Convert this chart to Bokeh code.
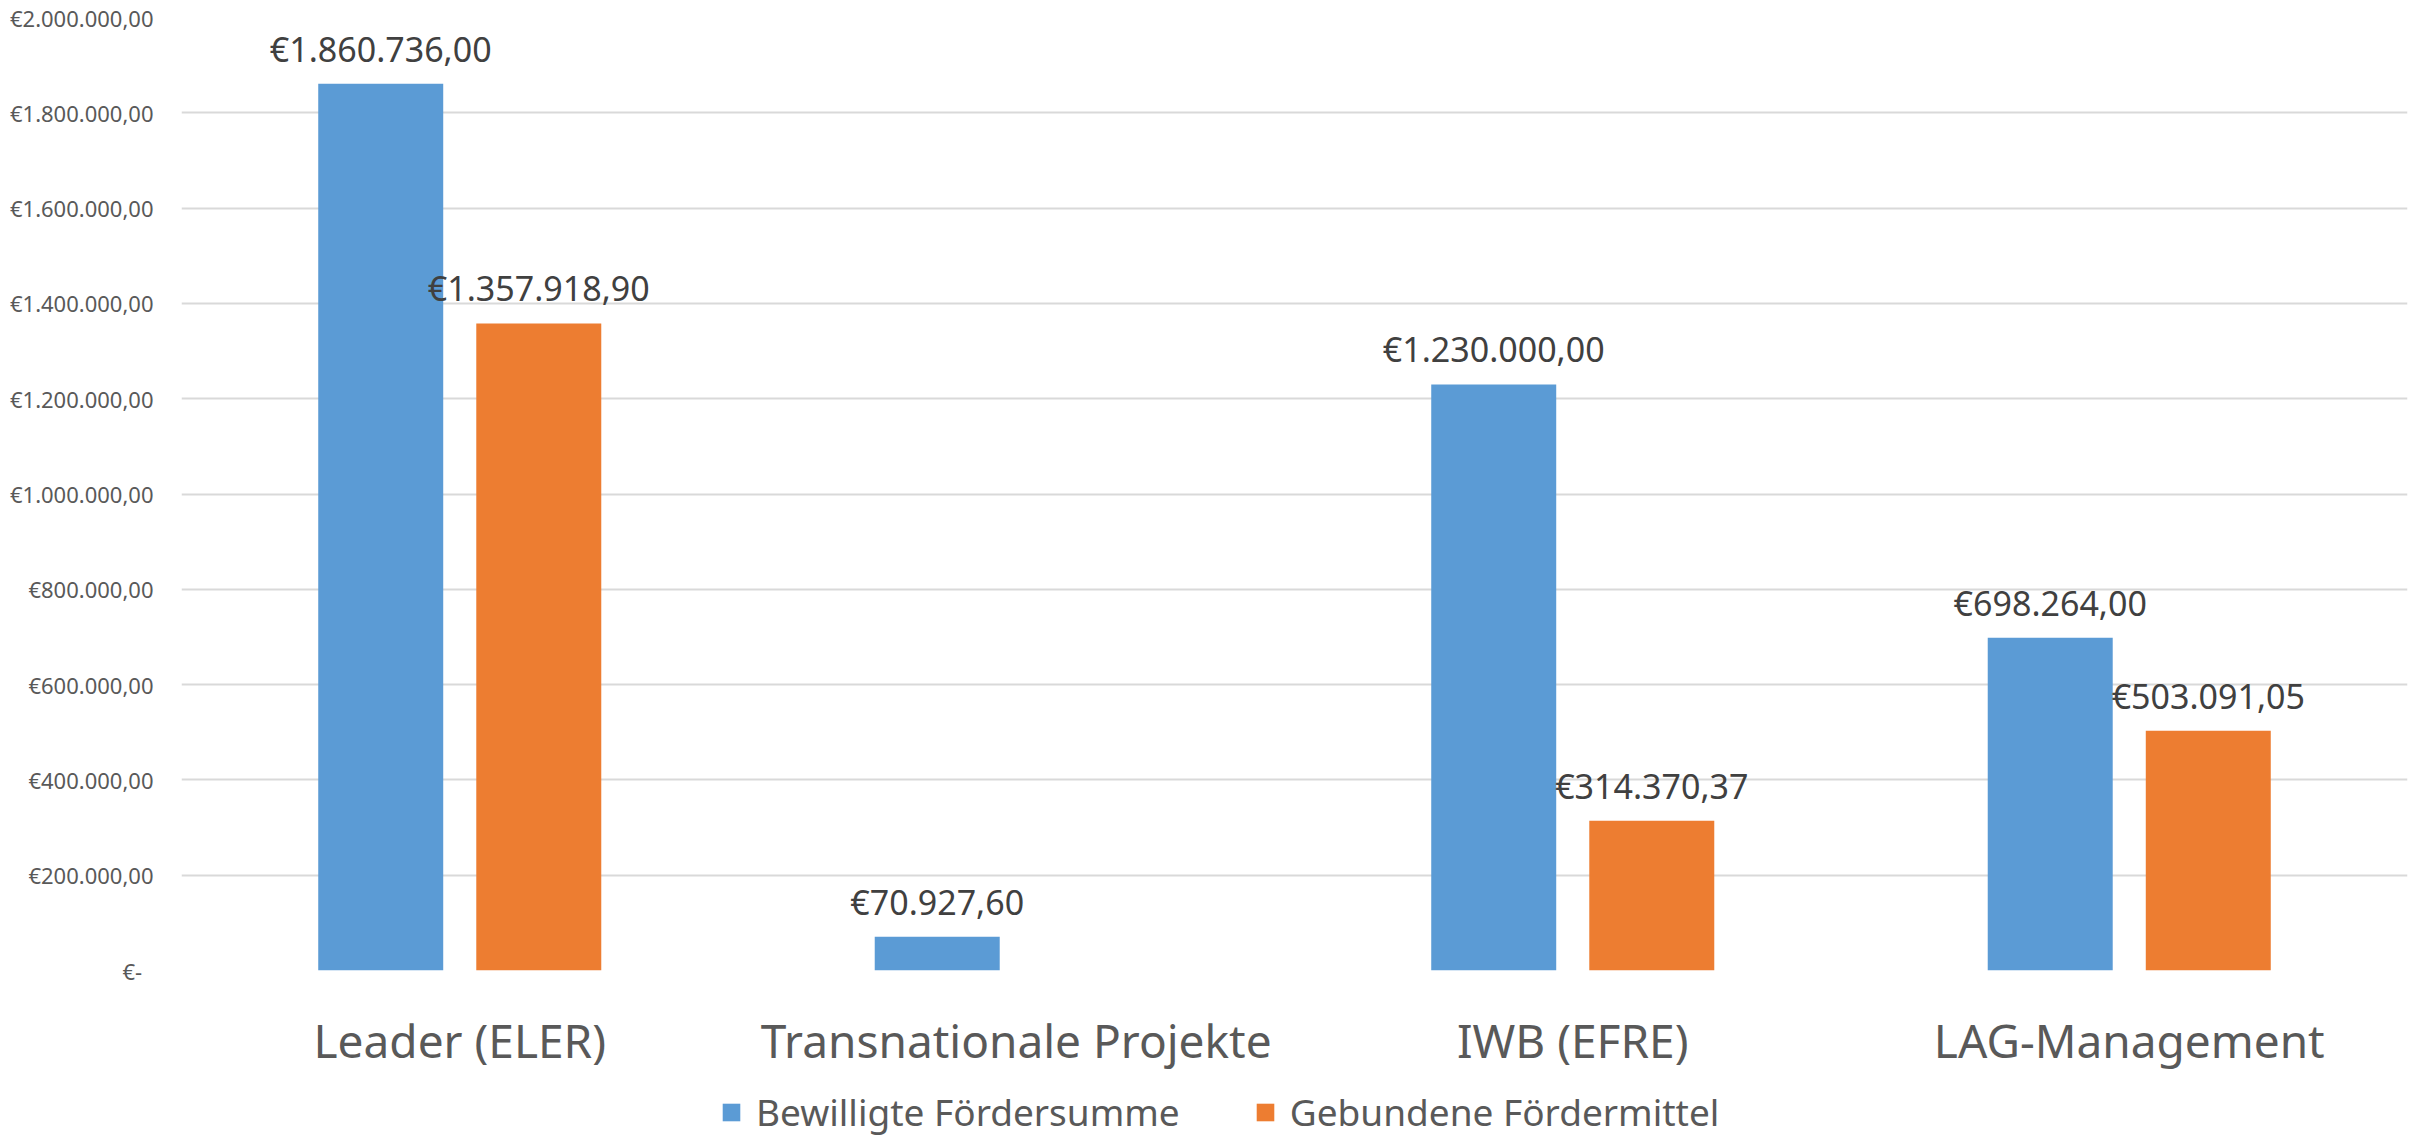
from bokeh.plotting import figure
from bokeh.layouts import column
from bokeh.models import (ColumnDataSource, FactorRange, Range1d, FixedTicker,
                          LabelSet, Legend, LegendItem)
from bokeh.transform import dodge
from bokeh.core.properties import value
from bokeh.embed import file_html
from bokeh.resources import INLINE

# ---- data ----
categories = ["Leader (ELER)", "Transnationale Projekte", "IWB (EFRE)", "LAG-Management"]
series_names = ["Bewilligte Fördersumme", "Gebundene Fördermittel"]
bewilligte = [1860736.00, 70927.60, 1230000.00, 698264.00]
gebundene = [1357918.90, None, 314370.37, 503091.05]
y_ticks = [0, 200000, 400000, 600000, 800000, 1000000, 1200000, 1400000,
           1600000, 1800000, 2000000]
y_tick_labels = ["€-\u00a0\u00a0", "€200.000,00", "€400.000,00", "€600.000,00", "€800.000,00",
                 "€1.000.000,00", "€1.200.000,00", "€1.400.000,00", "€1.600.000,00",
                 "€1.800.000,00", "€2.000.000,00"]

colors = ["#5B9BD5", "#ED7D31"]
FONT = "Noto Sans"


def fmt_eur(v):
    s = f"{v:,.2f}"
    s = s.replace(",", "X").replace(".", ",").replace("X", ".")
    return "€" + s


def make_source(vals):
    cats = [c for c, v in zip(categories, vals) if v is not None]
    vs = [v for v in vals if v is not None]
    return ColumnDataSource(dict(cat=cats, val=vs, label=[fmt_eur(v) for v in vs]))


src1 = make_source(bewilligte)
src2 = make_source(gebundene)

W = 2412
xr = FactorRange(factors=categories, range_padding=0)
p = figure(width=W, height=1080, output_backend="svg", toolbar_location=None,
           x_range=xr, y_range=Range1d(0, 2000000),
           min_border_left=181, min_border_right=5, min_border_top=17,
           min_border_bottom=110)
p.outline_line_color = None
p.background_fill_color = "white"
p.border_fill_color = "white"

OFF = 0.142
BW = 0.2246
r1 = p.vbar(x=dodge("cat", -OFF, range=xr), top="val", width=BW, bottom=0,
            source=src1, fill_color=colors[0], line_color=None)
r2 = p.vbar(x=dodge("cat", OFF, range=xr), top="val", width=BW, bottom=0,
            source=src2, fill_color=colors[1], line_color=None)

for src, off in ((src1, -OFF), (src2, OFF)):
    p.add_layout(LabelSet(x=dodge("cat", off, range=xr), y="val", text="label",
                          source=src, text_align="center", text_baseline="alphabetic",
                          y_offset=22, text_font_size=value("34px"),
                          text_font=value(FONT), text_color=value("#404040")))

# axes
p.yaxis.ticker = FixedTicker(ticks=y_ticks)
p.yaxis.major_label_overrides = {t: l for t, l in zip(y_ticks, y_tick_labels)}
p.yaxis.axis_line_color = None
p.yaxis.major_tick_line_color = None
p.yaxis.minor_tick_line_color = None
p.yaxis.major_tick_out = 0
p.yaxis.major_tick_in = 0
p.yaxis.major_label_standoff = 28
p.yaxis.major_label_text_font = FONT
p.yaxis.major_label_text_font_size = "22px"
p.yaxis.major_label_text_color = "#595959"

p.xaxis.axis_line_color = None
p.xaxis.major_tick_line_color = None
p.xaxis.major_label_standoff = 32
p.xaxis.major_label_text_font = FONT
p.xaxis.major_label_text_font_size = "46px"
p.xaxis.major_label_text_color = "#595959"

p.xgrid.grid_line_color = None
p.ygrid.grid_line_color = "#D9D9D9"
p.ygrid.grid_line_width = 2

# ---- legend strip (same series; its y range lies far above the data, so no bars show) ----
lg = figure(width=W, height=60, output_backend="svg", toolbar_location=None,
            x_range=xr, y_range=Range1d(1e9, 1e9 + 1),
            x_axis_type=None, y_axis_type=None,
            min_border_left=0, min_border_right=0, min_border_top=0, min_border_bottom=0)
lg.outline_line_color = None
lg.xgrid.grid_line_color = None
lg.ygrid.grid_line_color = None
l1 = lg.vbar(x=dodge("cat", -OFF, range=xr), top="val", width=BW, bottom=0,
             source=src1, fill_color=colors[0], line_color=None)
l2 = lg.vbar(x=dodge("cat", OFF, range=xr), top="val", width=BW, bottom=0,
             source=src2, fill_color=colors[1], line_color=None)
legend = Legend(items=[LegendItem(label=series_names[0], renderers=[l1]),
                       LegendItem(label=series_names[1], renderers=[l2])],
                orientation="horizontal", location=(539, 3),
                glyph_width=22, glyph_height=22, label_standoff=14, spacing=74,
                padding=0, margin=0, border_line_color=None, background_fill_alpha=0,
                label_text_font=FONT, label_text_font_size="37px",
                label_text_color="#595959")
lg.add_layout(legend)

layout = column(p, lg, spacing=0)
open("out.html", "w").write(file_html(layout, INLINE))
